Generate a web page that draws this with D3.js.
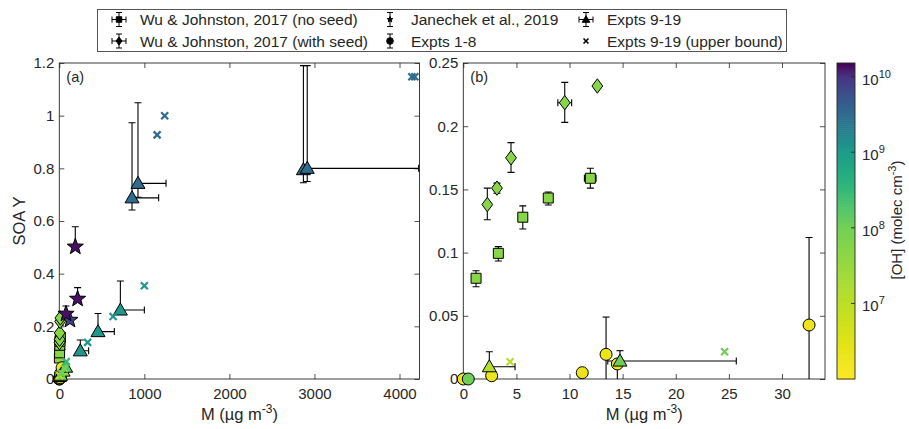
<!DOCTYPE html>
<meta charset="utf-8">
<title>SOA yield vs M</title>
<script src="https://d3js.org/d3.v7.min.js"></script>
<style>
  body { margin: 0; background: #fff; }
  svg text { font-family: "Liberation Sans", Arial, Helvetica, sans-serif; fill: #262626; }
</style>
<body>
<svg id="chart" width="909" height="429"></svg>
<script>
// each point: m = M (ug m-3), y = SOA Y, yl/yh = error bar ends, xl/xh = x error ends, oh = log10 [OH]
var wuNoSeed = [
  {m: 1.2,   y: 0.0797, yl: 0.073,  yh: 0.0857, oh: 7.7},
  {m: 3.3,   y: 0.0994, yl: 0.0934, yh: 0.1047, oh: 7.7},
  {m: 5.6,   y: 0.128,  yl: 0.1187, yh: 0.137,  oh: 7.7},
  {m: 8.0,   y: 0.1432, yl: 0.1377, yh: 0.148,  oh: 7.7},
  {m: 11.96, y: 0.1588, yl: 0.151,  yh: 0.1667, xl: 11.4, xh: 12.5, oh: 7.7}
];
var wuWithSeed = [
  {m: 2.26,  y: 0.138, yl: 0.126, yh: 0.151, oh: 7.7},
  {m: 3.17,  y: 0.151, yl: 0.147, yh: 0.155, oh: 7.7},
  {m: 4.49,  y: 0.175, yl: 0.1635, yh: 0.187, oh: 7.7},
  {m: 9.55,  y: 0.2186, yl: 0.203, yh: 0.2347, xl: 8.9, xh: 10.2, oh: 7.7},
  {m: 12.62, y: 0.2318, oh: 7.7}
];
var janechek = [
  {m: 188, y: 0.502, yh: 0.578, oh: 10.13},
  {m: 215, y: 0.304, yh: 0.347, oh: 10.13},
  {m: 125, y: 0.224, oh: 9.9},
  {m: 79,  y: 0.247, yh: 0.277, oh: 10.13}
];
var expts1to8 = [
  {m: 0.0,   y: 0.0,    oh: 6.3},
  {m: 0.47,  y: 0.0,    oh: 8.05},
  {m: 2.67,  y: 0.0026, oh: 6.3},
  {m: 11.2,  y: 0.005,  oh: 6.3},
  {m: 13.44, y: 0.0195, yl: -0.01, yh: 0.049, oh: 6.3},
  {m: 14.5,  y: 0.0119, yl: -0.01, yh: 0.0119, oh: 6.3},
  {m: 32.55, y: 0.0427, yl: -0.03, yh: 0.112, oh: 6.3}
];
var expts9to19 = [
  {m: 2.45,  y: 0.0097, yh: 0.0216, xh: 4.87, oh: 7.1},
  {m: 14.75, y: 0.0142, yh: 0.0224, xl: 13.6, xh: 25.7, oh: 8.05},
  {m: 45,    y: 0.03,   oh: 7.5},
  {m: 75,    y: 0.045,  oh: 8.2},
  {m: 247,   y: 0.107,  yh: 0.148, xh: 345, oh: 9.05},
  {m: 455,   y: 0.18,   yh: 0.249, xh: 647, oh: 9.05},
  {m: 718,   y: 0.262,  yh: 0.372, xh: 1000, oh: 9.05},
  {m: 855,   y: 0.688,  yl: 0.642, yh: 0.973, xh: 1168, oh: 9.5},
  {m: 925,   y: 0.743,  yl: 0.69,  yh: 1.049, xh: 1255, oh: 9.5},
  {m: 2870,  y: 0.795,  yl: 0.745, yh: 1.19, oh: 9.5},
  {m: 2915,  y: 0.80,   yl: 0.75,  yh: 1.19, xh: 4225, oh: 9.5}
];
var upperBound = [
  {m: 4.4,  y: 0.0137, oh: 7.1},
  {m: 24.6, y: 0.0216, oh: 8.05},
  {m: 60,   y: 0.04,   oh: 7.9},
  {m: 82,   y: 0.066,  oh: 8.5},
  {m: 333,  y: 0.139,  oh: 9.05},
  {m: 632,  y: 0.237,  oh: 9.05},
  {m: 1000, y: 0.354,  oh: 9.05},
  {m: 1150, y: 0.927,  oh: 9.5},
  {m: 1239, y: 1.0,    oh: 9.5},
  {m: 4145, y: 1.148,  oh: 9.5},
  {m: 4180, y: 1.148,  oh: 9.5}
];

var leftXTicks = [0, 1000, 2000, 3000, 4000];
var leftYTicks = [0, 0.2, 0.4, 0.6, 0.8, 1, 1.2];
var rightXTicks = [0, 5, 10, 15, 20, 25, 30];
var rightYTicks = [0, 0.05, 0.1, 0.15, 0.2, 0.25];
var cbarTicks = [7, 8, 9, 10];

var legendItems = [
  {label: "Wu & Johnston, 2017 (no seed)", shape: "square", xerr: true, yerr: true},
  {label: "Wu & Johnston, 2017 (with seed)", shape: "diamond", xerr: true, yerr: true},
  {label: "Janechek et al., 2019", shape: "star", yerr: true, small: true},
  {label: "Expts 1-8", shape: "circle", yerr: true},
  {label: "Expts 9-19", shape: "triangle", xerr: true, yerr: true},
  {label: "Expts 9-19 (upper bound)", shape: "cross"}
];

var svg = d3.select("#chart");
var axisColor = "#262626";

// colour mapping of log10[OH] onto viridis (dark at high OH)
var ohToT = d3.scaleLinear().domain([6, 7, 8, 9, 10, 10.18]).range([1, 0.9, 0.79, 0.55, 0.15, 0]).clamp(true);
function ohColor(v) { return d3.interpolateViridis(ohToT(v)); }

// marker paths, size in px
function markerPath(shape, s) {
  s = s || 1;
  if (shape == "square") { var h = 5 * s; return "M" + -h + "," + -h + "H" + h + "V" + h + "H" + -h + "Z"; }
  if (shape == "diamond") { var w = 5.4 * s, t = 7.2 * s; return "M0," + -t + "L" + w + ",0L0," + t + "L" + -w + ",0Z"; }
  if (shape == "triangle") { var a = 7 * s; return "M0," + (-a) + "L" + a + "," + (a * 0.72) + "L" + -a + "," + (a * 0.72) + "Z"; }
  if (shape == "circle") { var r = 6 * s; return "M" + r + ",0A" + r + "," + r + " 0 1,1 " + -r + ",0A" + r + "," + r + " 0 1,1 " + r + ",0Z"; }
  if (shape == "star") {
    var ro = 8.5 * s, ri = 3.5 * s, p = [];
    for (var i = 0; i < 10; i++) {
      var ang = -Math.PI / 2 + i * Math.PI / 5, rr = i % 2 ? ri : ro;
      p.push([rr * Math.cos(ang), rr * Math.sin(ang)]);
    }
    return "M" + p.map(function (q) { return q[0].toFixed(2) + "," + q[1].toFixed(2); }).join("L") + "Z";
  }
  if (shape == "cross") { var c = 3.5 * s; return "M" + -c + "," + -c + "L" + c + "," + c + "M" + -c + "," + c + "L" + c + "," + -c; }
}

var series = [
  {data: wuNoSeed, shape: "square"},
  {data: wuWithSeed, shape: "diamond"},
  {data: janechek, shape: "star"},
  {data: expts1to8, shape: "circle"},
  {data: expts9to19, shape: "triangle"},
  {data: upperBound, shape: "cross"}
];

function drawPanel(opt) {
  var x = d3.scaleLinear().domain(opt.xDomain).range([opt.x0, opt.x1]);
  var y = d3.scaleLinear().domain(opt.yDomain).range([opt.y1, opt.y0]);
  var g = svg.append("g");
  var clipId = "clip" + opt.name;
  svg.append("clipPath").attr("id", clipId).append("rect")
    .attr("x", opt.x0).attr("y", opt.y0).attr("width", opt.x1 - opt.x0).attr("height", opt.y1 - opt.y0);

  // axes with inward ticks on all four sides
  var tl = 5;
  g.append("g").attr("transform", "translate(0," + opt.y1 + ")")
    .call(d3.axisBottom(x).tickValues(opt.xTicks).tickSizeInner(-tl).tickSizeOuter(0).tickPadding(9).tickFormat(d3.format("~g")));
  g.append("g").attr("transform", "translate(0," + opt.y0 + ")")
    .call(d3.axisTop(x).tickValues(opt.xTicks).tickSizeInner(-tl).tickSizeOuter(0).tickFormat(""));
  g.append("g").attr("transform", "translate(" + opt.x0 + ",0)")
    .call(d3.axisLeft(y).tickValues(opt.yTicks).tickSizeInner(-tl).tickSizeOuter(0).tickPadding(5).tickFormat(d3.format("~g")));
  g.append("g").attr("transform", "translate(" + opt.x1 + ",0)")
    .call(d3.axisRight(y).tickValues(opt.yTicks).tickSizeInner(-tl).tickSizeOuter(0).tickFormat(""));
  g.selectAll(".domain").remove();
  g.selectAll(".tick line").attr("stroke", axisColor).attr("stroke-width", 0.8);
  g.selectAll(".tick text").attr("font-size", 15).attr("fill", axisColor)
    .style("font-family", '"Liberation Sans", Arial, sans-serif');
  g.append("rect").attr("x", opt.x0).attr("y", opt.y0).attr("width", opt.x1 - opt.x0).attr("height", opt.y1 - opt.y0)
    .attr("fill", "none").attr("stroke", axisColor).attr("stroke-width", 0.9);

  g.append("text").attr("x", opt.x0 + 7).attr("y", opt.y0 + 19).attr("font-size", 14.5).text(opt.tag);

  var xl = g.append("text").attr("x", (opt.x0 + opt.x1) / 2).attr("y", 420).attr("text-anchor", "middle").attr("font-size", 16.5);
  xl.append("tspan").text("M (µg m");
  xl.append("tspan").attr("dy", -7).attr("font-size", 12).text("-3");
  xl.append("tspan").attr("dy", 7).text(")");

  var errG = g.append("g").attr("clip-path", "url(#" + clipId + ")")
    .attr("stroke", "#000").attr("stroke-width", 1.1).attr("fill", "none");
  var markG = g.append("g");
  var cap = 3.5;
  function inside(d) {
    return d.m >= opt.xDomain[0] - 1e-9 && d.m <= opt.xDomain[1] && d.y >= opt.yDomain[0] - 1e-9 && d.y <= opt.yDomain[1];
  }

  series.forEach(function (s) {
    s.data.forEach(function (d) {
      var cx = x(d.m), cy = y(d.y);
      if (d.yh != null || d.yl != null) {
        var top = y(d.yh != null ? d.yh : d.y), bot = y(d.yl != null ? d.yl : d.y);
        errG.append("path").attr("d", "M" + cx + "," + top + "V" + bot);
        if (d.yh != null) errG.append("path").attr("d", "M" + (cx - cap) + "," + top + "H" + (cx + cap));
        if (d.yl != null) errG.append("path").attr("d", "M" + (cx - cap) + "," + bot + "H" + (cx + cap));
      }
      if (d.xh != null || d.xl != null) {
        var lft = x(d.xl != null ? d.xl : d.m), rgt = x(d.xh != null ? d.xh : d.m);
        errG.append("path").attr("d", "M" + lft + "," + cy + "H" + rgt);
        if (d.xh != null) errG.append("path").attr("d", "M" + rgt + "," + (cy - cap) + "V" + (cy + cap));
        if (d.xl != null) errG.append("path").attr("d", "M" + lft + "," + (cy - cap) + "V" + (cy + cap));
      }
    });
    s.data.filter(inside).forEach(function (d) {
      var p = markG.append("path").attr("d", markerPath(s.shape))
        .attr("transform", "translate(" + x(d.m) + "," + y(d.y) + ")");
      if (s.shape == "cross") p.attr("fill", "none").attr("stroke", ohColor(d.oh)).attr("stroke-width", 2.2);
      else p.attr("fill", ohColor(d.oh)).attr("stroke", "#000").attr("stroke-width", 1);
    });
  });
}

drawPanel({name: "a", tag: "(a)", x0: 59.3, x1: 419.5, y0: 63, y1: 379,
  xDomain: [0, 4235], yDomain: [0, 1.2], xTicks: leftXTicks, yTicks: leftYTicks});
drawPanel({name: "b", tag: "(b)", x0: 463.3, x1: 825, y0: 63, y1: 379,
  xDomain: [0, 34.05], yDomain: [0, 0.25], xTicks: rightXTicks, yTicks: rightYTicks});

// y label
svg.append("text").attr("transform", "translate(25,221) rotate(-90)").attr("text-anchor", "middle")
  .attr("font-size", 16.5).text("SOA Y");

// colour bar
var cb = {x: 837, w: 18, y0: 63, y1: 379};
var cy = d3.scaleLinear().domain([6, 10.18]).range([cb.y1, cb.y0]);
var nStep = 160;
for (var i = 0; i < nStep; i++) {
  var v0 = 6 + (10.18 - 6) * i / nStep, v1 = 6 + (10.18 - 6) * (i + 1) / nStep;
  svg.append("rect").attr("x", cb.x).attr("y", cy(v1)).attr("width", cb.w).attr("height", cy(v0) - cy(v1) + 0.6)
    .attr("fill", ohColor((v0 + v1) / 2));
}
svg.append("rect").attr("x", cb.x).attr("y", cb.y0).attr("width", cb.w).attr("height", cb.y1 - cb.y0)
  .attr("fill", "none").attr("stroke", axisColor).attr("stroke-width", 0.9);
cbarTicks.forEach(function (t) {
  svg.append("line").attr("x1", cb.x + cb.w - 4).attr("x2", cb.x + cb.w).attr("y1", cy(t)).attr("y2", cy(t))
    .attr("stroke", axisColor).attr("stroke-width", 0.9);
  var tx = svg.append("text").attr("x", cb.x + cb.w + 7).attr("y", cy(t) + 8).attr("font-size", 15);
  tx.append("tspan").text("10");
  tx.append("tspan").attr("dy", -7).attr("font-size", 11).text(t);
});
var cbl = svg.append("text").attr("transform", "translate(902,220) rotate(-90)").attr("text-anchor", "middle").attr("font-size", 15);
cbl.append("tspan").text("[OH] (molec cm");
cbl.append("tspan").attr("dy", -6).attr("font-size", 11).text("-3");
cbl.append("tspan").attr("dy", 6).text(")");

// legend
var lg = svg.append("g");
lg.append("rect").attr("x", 97.5).attr("y", 9.5).attr("width", 689).attr("height", 42)
  .attr("fill", "#fff").attr("stroke", "#555").attr("stroke-width", 1);
var colX = [119, 390, 586], rowY = [19.5, 41];
legendItems.forEach(function (it, k) {
  var col = Math.floor(k / 2), row = k % 2;
  var mx = colX[col], my = rowY[row];
  var li = lg.append("g").attr("transform", "translate(" + mx + "," + my + ")");
  if (it.yerr) {
    li.append("path").attr("d", "M0,-7V7M-3,-7H3M-3,7H3").attr("stroke", "#000").attr("fill", "none");
  }
  if (it.xerr) {
    li.append("path").attr("d", "M-7,0H7M-7,-3V3M7,-3V3").attr("stroke", "#000").attr("fill", "none");
  }
  var mp = li.append("path").attr("d", markerPath(it.shape, it.small ? 0.35 : 0.55));
  if (it.shape == "cross") mp.attr("stroke", "#000").attr("stroke-width", 1.6).attr("fill", "none").attr("d", markerPath("cross", 0.7));
  else mp.attr("fill", "#000").attr("stroke", "#000");
  lg.append("text").attr("x", mx + 21).attr("y", my + 5.5).attr("font-size", 15.5).text(it.label);
});
</script>
</body>
